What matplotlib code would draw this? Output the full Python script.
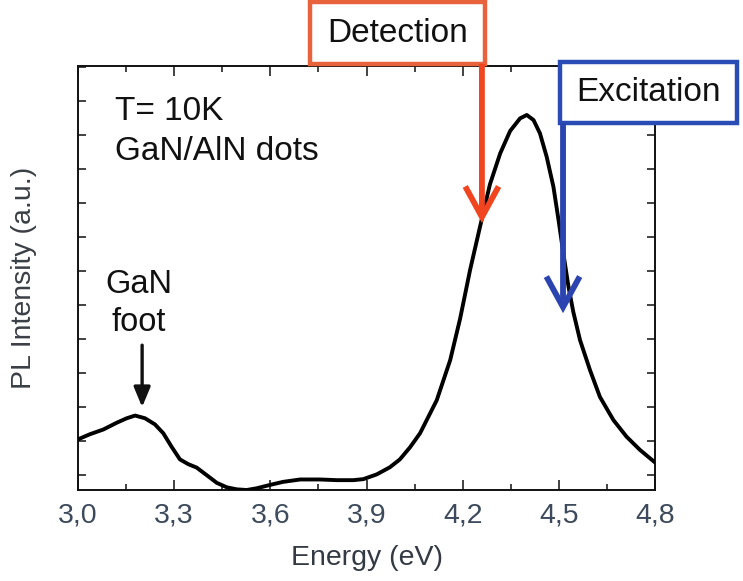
import matplotlib
matplotlib.use("Agg")
import matplotlib.pyplot as plt
from matplotlib.patches import Rectangle, FancyArrowPatch

plt.rcParams['font.family'] = ['Liberation Sans', 'DejaVu Sans']

# Data
energy = [3.000, 3.037, 3.079, 3.121, 3.152, 3.178, 3.209, 3.240, 3.266, 3.292,
          3.318, 3.344, 3.370, 3.401, 3.433, 3.464, 3.495, 3.526, 3.557, 3.599,
          3.640, 3.693, 3.755, 3.807, 3.859, 3.890, 3.932, 3.973, 4.004, 4.036,
          4.067, 4.119, 4.161, 4.192, 4.223, 4.254, 4.285, 4.317, 4.348, 4.379,
          4.400, 4.421, 4.441, 4.462, 4.483, 4.499, 4.514, 4.530, 4.545, 4.566,
          4.597, 4.628, 4.670, 4.711, 4.753, 4.800]
intensity = [1.05, 1.20, 1.34, 1.54, 1.67, 1.75, 1.67, 1.49, 1.23, 0.83,
             0.46, 0.32, 0.22, 0.00, -0.23, -0.36, -0.42, -0.44, -0.39, -0.29,
             -0.20, -0.13, -0.13, -0.15, -0.15, -0.12, 0.02, 0.23, 0.46, 0.82,
             1.23, 2.20, 3.38, 4.60, 6.03, 7.30, 8.55, 9.46, 10.12, 10.49,
             10.59, 10.44, 10.05, 9.36, 8.48, 7.50, 6.52, 5.54, 4.80, 3.97,
             3.09, 2.30, 1.62, 1.13, 0.74, 0.37]

x_major = [3.0, 3.3, 3.6, 3.9, 4.2, 4.5, 4.8]
x_major_labels = ["3,0", "3,3", "3,6", "3,9", "4,2", "4,5", "4,8"]
x_minor = [3.15, 3.45, 3.75, 4.05, 4.35, 4.65]
y_ticks = list(range(0, 13))

# annotation anchors (data units)
detection_E, detection_I = 4.26, 7.41
excitation_E, excitation_I = 4.513, 4.76
foot_E, foot_I = 3.20, 2.0

fig = plt.figure(figsize=(7.43, 5.81), dpi=100)
ax = fig.add_axes([0.105, 0.1566, 0.7766, 0.7298])

ax.plot(energy, intensity, color='black', lw=2.8, solid_joinstyle='round',
        solid_capstyle='round', zorder=3)

ax.set_xlim(3.0, 4.8)
ax.set_ylim(-0.44, 12.03)
ax.set_xticks(x_major)
ax.set_xticklabels(x_major_labels)
ax.set_xticks(x_minor, minor=True)
ax.set_yticks(y_ticks)
ax.set_yticklabels([])

tick_col = '#3c4a5c'
ax.tick_params(axis='both', which='both', direction='in', top=True, right=True,
               width=1.2, color='#222222')
ax.tick_params(axis='x', which='major', length=7, labelsize=20.5,
               labelcolor=tick_col, pad=9)
ax.tick_params(axis='x', which='minor', length=4)
ax.tick_params(axis='y', which='major', length=6)
for s in ax.spines.values():
    s.set_linewidth(1.4)
    s.set_color('#111111')

ax.set_xlabel('Energy (eV)', fontsize=20.5, color='#333a44', labelpad=12)
ax.set_ylabel('PL Intensity (a.u.)', fontsize=20.5, color='#3a3f46', labelpad=26)

# Texts
ax.text(3.116, 10.7, 'T= 10K', fontsize=24, va='center', ha='left', color='#111111')
ax.text(3.116, 9.52, 'GaN/AlN dots', fontsize=24, va='center', ha='left', color='#111111')
ax.text(3.19, 5.60, 'GaN', fontsize=23.5, va='center', ha='center', color='#111111')
ax.text(3.19, 4.48, 'foot', fontsize=23.5, va='center', ha='center', color='#111111')

# GaN foot arrow
ax.add_patch(FancyArrowPatch((foot_E, 3.82), (foot_E, foot_I),
                             arrowstyle='-|>,head_length=12,head_width=5',
                             mutation_scale=1, lw=2.4, color='#111111',
                             shrinkA=0, shrinkB=0, clip_on=False, zorder=4))

# Detection box and arrow
det_col = '#e8623c'
det_arrow = '#f0451f'
ax.add_patch(Rectangle((3.724, 12.09), 4.27 - 3.724, 13.9 - 12.09,
                       facecolor='white', edgecolor=det_col, lw=3.2,
                       clip_on=False, zorder=5))
ax.text((3.724 + 4.27) / 2, 13.0, 'Detection', fontsize=24, ha='center',
        va='center', color='#111111', zorder=6, clip_on=False)
ax.add_patch(FancyArrowPatch((detection_E, 12.09), (detection_E, detection_I),
                             arrowstyle='->,head_length=22,head_width=12',
                             mutation_scale=1, lw=4.2, color=det_arrow,
                             shrinkA=0, shrinkB=0, clip_on=False, zorder=5,
                             joinstyle='miter', capstyle='butt'))

# Excitation box and arrow
exc_col = '#2a4db5'
exc_arrow = '#2b44b0'
ax.add_patch(Rectangle((4.504, 10.35), 5.055 - 4.504, 12.15 - 10.35,
                       facecolor='white', edgecolor=exc_col, lw=3.2,
                       clip_on=False, zorder=5))
ax.text((4.504 + 5.055) / 2, 11.25, 'Excitation', fontsize=24, ha='center',
        va='center', color='#111111', zorder=6, clip_on=False)
ax.add_patch(FancyArrowPatch((excitation_E, 10.35), (excitation_E, excitation_I),
                             arrowstyle='->,head_length=22,head_width=12',
                             mutation_scale=1, lw=4.2, color=exc_arrow,
                             shrinkA=0, shrinkB=0, clip_on=False, zorder=5,
                             joinstyle='miter', capstyle='butt'))

fig.savefig('out.png', dpi=100)
